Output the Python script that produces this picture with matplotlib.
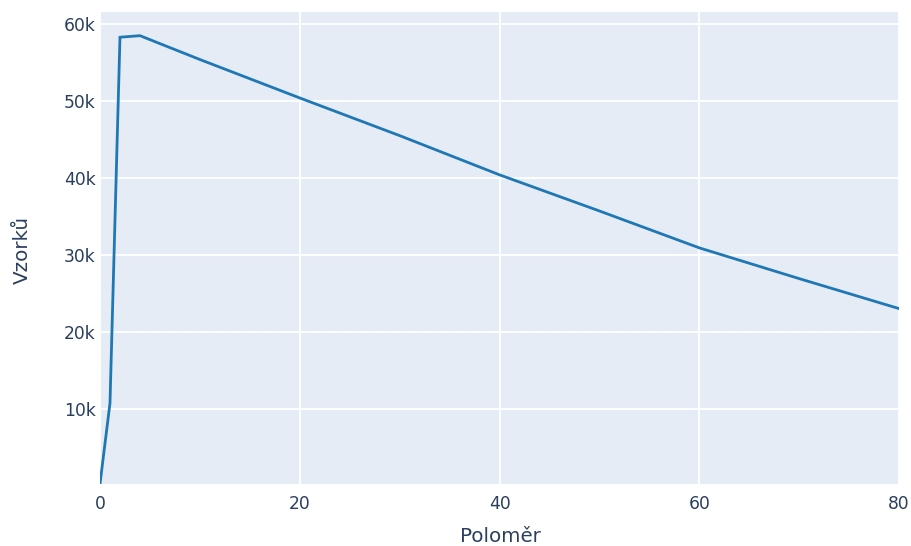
import matplotlib
matplotlib.use("Agg")
import matplotlib.pyplot as plt
from matplotlib.ticker import FixedLocator, FuncFormatter

plt.rcParams['font.family'] = ['DejaVu Sans']

radius = [0, 1, 2, 4, 10, 20, 30, 40, 50, 60, 70, 80]
samples = [200, 10700, 58300, 58500, 55400, 50400, 45500, 40400, 35700, 30900, 26900, 23000]
x_ticks = [0, 20, 40, 60, 80]
y_ticks = [10000, 20000, 30000, 40000, 50000, 60000]
x_title = "Poloměr"
y_title = "Vzorků"

text_color = "#2a3f5f"
bg_color = "#E5ECF6"

fig = plt.figure(figsize=(9.11, 5.46), dpi=100)
ax = fig.add_axes([100/911, 1-484/546, 799/911, 472/546])
ax.set_facecolor(bg_color)
ax.plot(radius, samples, color="#1f77b4", linewidth=2.0, solid_joinstyle="miter", zorder=3)

ax.set_xlim(0, 80)
ax.set_ylim(180, 61580)
ax.xaxis.set_major_locator(FixedLocator(x_ticks))
ax.yaxis.set_major_locator(FixedLocator(y_ticks))
ax.yaxis.set_major_formatter(FuncFormatter(lambda v, p: f"{int(v/1000)}k"))
ax.xaxis.set_major_formatter(FuncFormatter(lambda v, p: f"{int(v)}"))
ax.grid(True, color="white", linewidth=1.3, zorder=1)
ax.set_axisbelow(True)
for s in ax.spines.values():
    s.set_visible(False)
ax.tick_params(axis='both', length=0, labelsize=12.3, labelcolor=text_color)
ax.tick_params(axis='x', pad=8)
ax.tick_params(axis='y', pad=3)

fig.text(500/911, 1-536/546, x_title, ha='center', va='center', fontsize=14.3, color=text_color)
fig.text(22/911, 1-250/546, y_title, ha='center', va='center', rotation=90, fontsize=14.3, color=text_color)

fig.savefig("out.png", dpi=100, facecolor="white")
